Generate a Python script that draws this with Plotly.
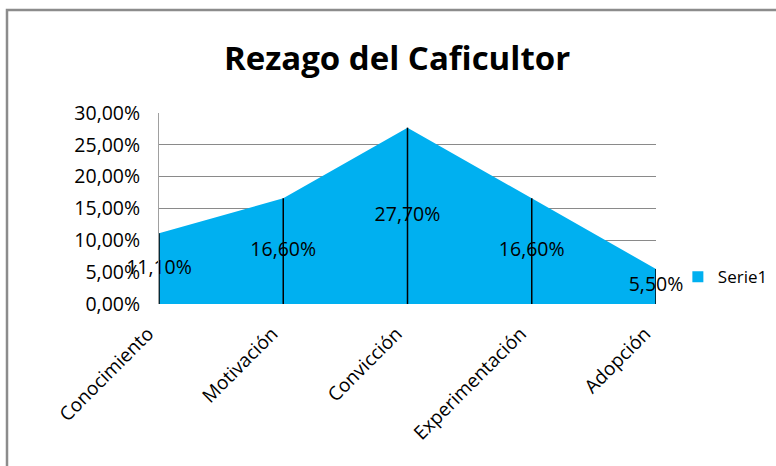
import plotly.graph_objects as go

categories = ["Conocimiento", "Motivación", "Convicción", "Experimentación", "Adopción"]
values = [0.111, 0.166, 0.277, 0.166, 0.055]
series_name = "Serie1"
y_ticks = [0, 0.05, 0.10, 0.15, 0.20, 0.25, 0.30]

def fmt(v):
    return f"{v*100:.2f}%".replace(".", ",")

xs = list(range(len(categories)))
FONT = "Open Sans, Calibri, sans-serif"
BLUE = "#00B0F0"

fig = go.Figure()
fig.add_trace(go.Scatter(
    x=xs, y=values, mode="lines", fill="tozeroy",
    fillcolor=BLUE, line=dict(width=0, color=BLUE),
    name=series_name, showlegend=False, hoverinfo="skip"))

# drop lines
dx, dy = [], []
for x, v in zip(xs, values):
    dx += [x, x, None]
    dy += [0, v, None]
fig.add_trace(go.Scatter(x=dx, y=dy, mode="lines",
                         line=dict(color="black", width=1.5),
                         showlegend=False, hoverinfo="skip", cliponaxis=False))

# data labels
fig.add_trace(go.Scatter(x=xs, y=[v / 2 for v in values], mode="text",
                         text=[fmt(v) for v in values],
                         textfont=dict(family=FONT, size=19.5, color="black"),
                         showlegend=False, hoverinfo="skip", cliponaxis=False))

# legend entry
fig.add_trace(go.Scatter(x=[None], y=[None], mode="markers", name=series_name,
                         marker=dict(symbol="square", size=11, color=BLUE),
                         showlegend=True, hoverinfo="skip"))

fig.update_layout(
    width=776, height=466,
    margin=dict(l=159, r=120, t=113, b=162, autoexpand=False),
    paper_bgcolor="white", plot_bgcolor="white",
    title=dict(text="<b>Rezago del Caficultor</b>", x=0.5116, xanchor="center",
               y=1 - 58 / 466, yanchor="middle",
               font=dict(family=FONT, size=33, color="black")),
    legend=dict(x=1.044, y=0.14, xanchor="left", yanchor="middle",
                font=dict(family=FONT, size=17, color="black"),
                bgcolor="rgba(0,0,0,0)", itemwidth=30),
    xaxis=dict(range=[0, 4], tickvals=xs, ticktext=categories,
               tickangle=-45, showgrid=False, zeroline=False, automargin=False,
               showline=False, ticks="", ticklabelstandoff=14,
               ticklabelshift=-11,
               tickfont=dict(family=FONT, size=19, color="black")),
    yaxis=dict(range=[0, 0.30], tickvals=y_ticks, automargin=False,
               ticktext=[fmt(t) for t in y_ticks],
               showgrid=True, gridcolor="#8a8a8a", gridwidth=1,
               zeroline=False, showline=True, linecolor="#a0a0a0",
               ticks="", ticklabelstandoff=14,
               tickfont=dict(family=FONT, size=19.5, color="black")),
    shapes=[dict(type="rect", xref="paper", yref="paper",
                 x0=(7 - 159) / 497, x1=2, y0=-2, y1=(304 - 10) / 191,
                 line=dict(color="#8c8c8c", width=2.5), layer="below")],
)

fig.write_html("out.html", config={"displayModeBar": False},
               post_script="document.body.style.margin='0px';document.body.style.overflow='hidden';")
